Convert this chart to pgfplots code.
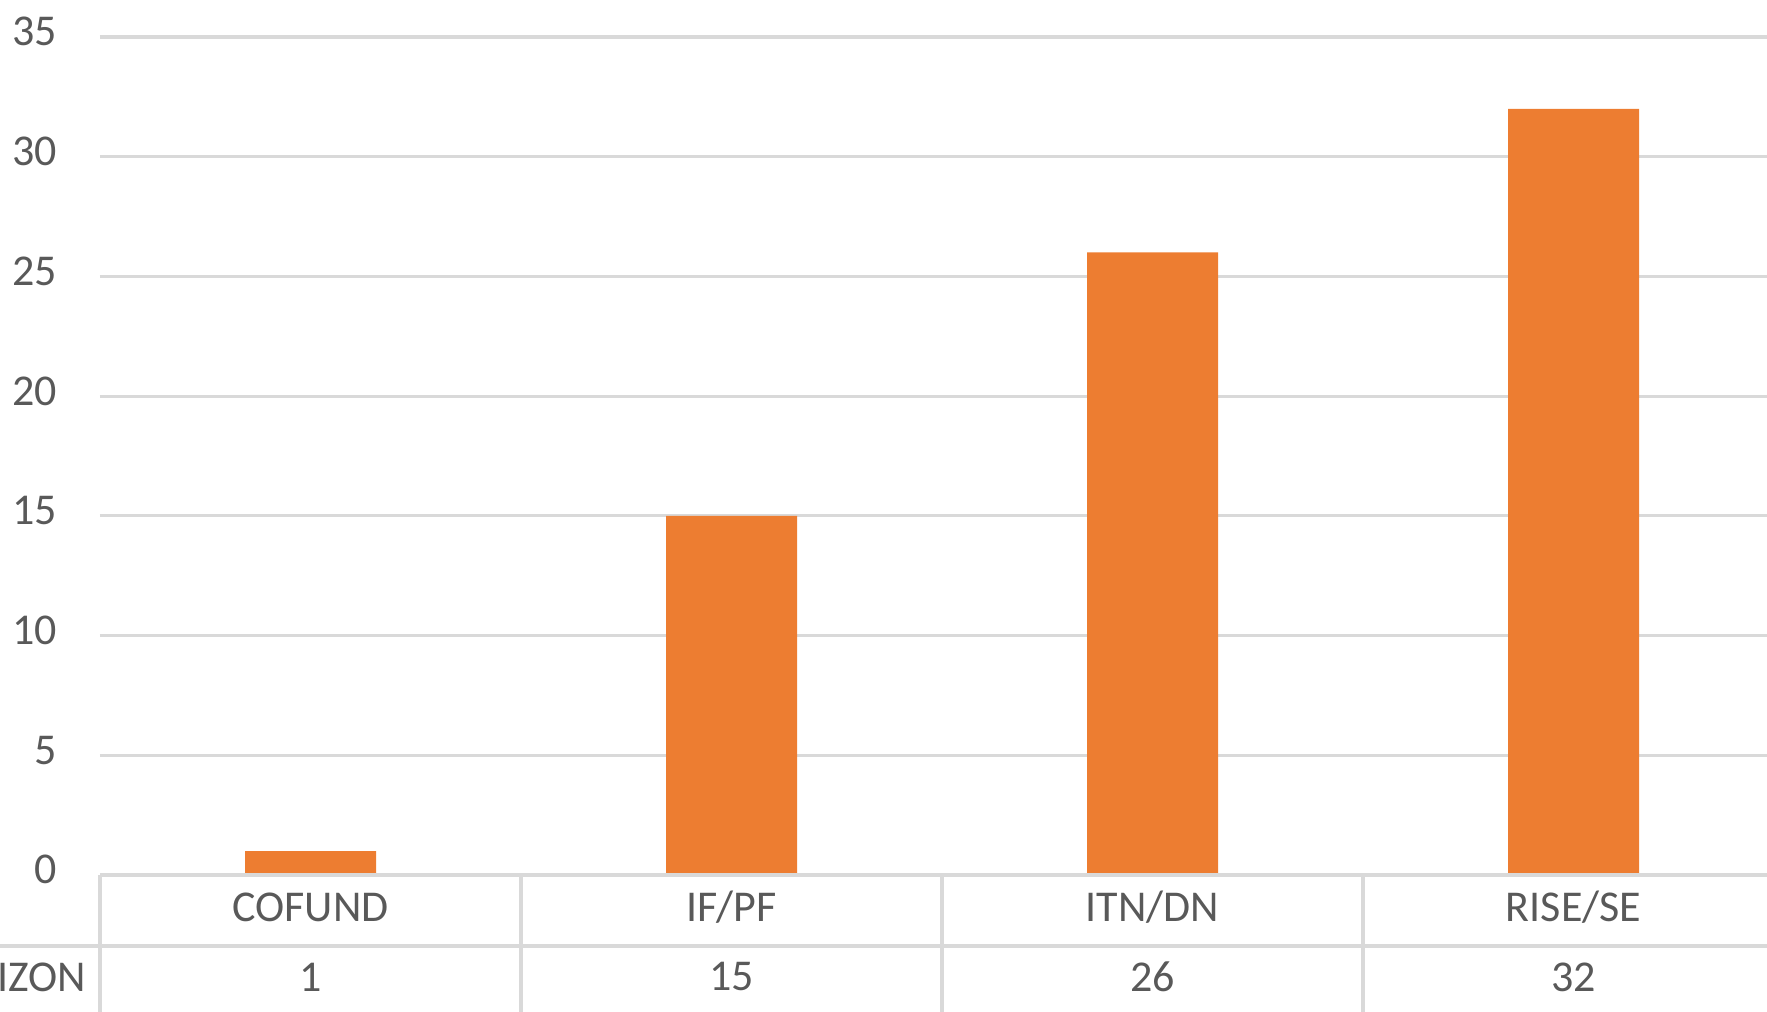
\documentclass[border=0pt]{standalone}
\usepackage{pgfplots}
\pgfplotsset{compat=1.18}
\usepackage{fontspec}
\setmainfont{Carlito}
\definecolor{barorange}{HTML}{ED7D31}
\definecolor{gridgray}{HTML}{D9D9D9}
\definecolor{textgray}{HTML}{595959}
\begin{document}
\begin{tikzpicture}
\begin{axis}[
  name=ax,
  scale only axis,
  width=416.75pt, height=209.5pt,
  xmin=-0.5, xmax=3.4596,
  ymin=0, ymax=35,
  ytick={0,5,...,35},
  xtick={0,1,2,3},
  xticklabels={COFUND, IF/PF, ITN/DN, RISE/SE},
  extra x ticks={0,1,2,3},
  extra x tick labels={1,15,26,32},
  extra x tick style={grid=none, xticklabel style={yshift=-17.5pt}},
  ymajorgrids,
  grid style={gridgray, line width=0.8pt},
  axis line style={draw=none},
  major tick length=0pt,
  tick label style={font=\fontsize{11}{13}\selectfont, text=textgray},
  /pgf/number format/assume math mode=true,
  yticklabel style={anchor=east, inner sep=0pt, xshift=-10.5pt, yshift=1.3pt},
  xticklabel style={anchor=center, inner sep=0pt, yshift=-8pt},
  clip=false,
  ybar, bar width=32.75pt,
]
  \addplot[fill=barorange, draw=none] coordinates {(0,1) (1,15) (2,26) (3,32)};
  % data table grid below the axis
  \draw[gridgray, line width=0.9pt] (axis cs:-0.5,0) -- ([yshift=-40pt]axis cs:-0.5,0);
  \draw[gridgray, line width=0.9pt] (axis cs:0.5,0) -- ([yshift=-40pt]axis cs:0.5,0);
  \draw[gridgray, line width=0.9pt] (axis cs:1.5,0) -- ([yshift=-40pt]axis cs:1.5,0);
  \draw[gridgray, line width=0.9pt] (axis cs:2.5,0) -- ([yshift=-40pt]axis cs:2.5,0);
  \draw[gridgray, line width=0.9pt] ([xshift=-30pt,yshift=-17.75pt]axis cs:-0.5,0) -- ([xshift=5pt,yshift=-17.75pt]axis cs:3.4596,0);
  \draw[gridgray, line width=0.9pt] (axis cs:-0.5,0) -- ([xshift=5pt]axis cs:3.4596,0);
  \node[anchor=east, inner sep=0pt, text=textgray, font=\fontsize{11}{13}\selectfont]
    at ([xshift=-3.25pt,yshift=-25.5pt]axis cs:-0.5,0) {IZON};
\end{axis}
\pgfresetboundingbox
\useasboundingbox ([xshift=-25pt,yshift=-34.25pt]ax.south west) rectangle ([yshift=9.25pt]ax.north east);
\end{tikzpicture}
\end{document}
